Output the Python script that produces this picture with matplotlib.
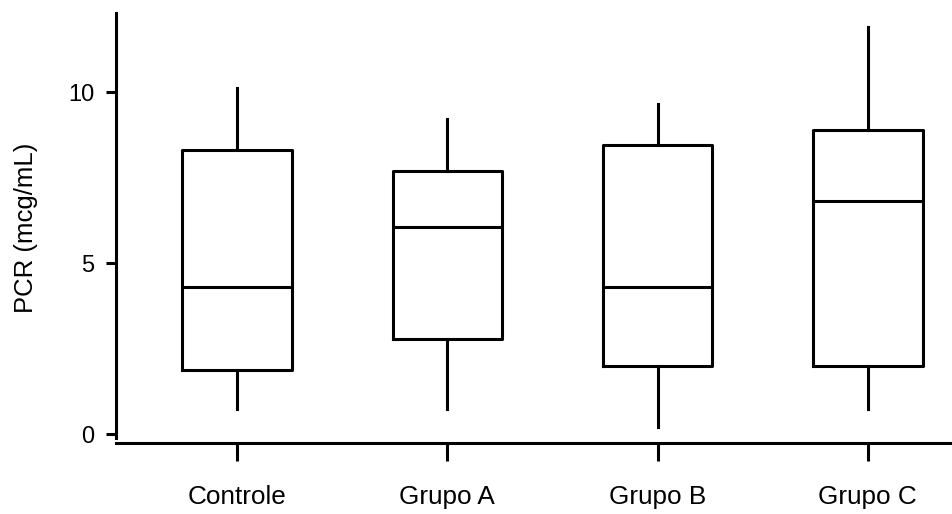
import matplotlib
matplotlib.use("Agg")
import matplotlib.pyplot as plt

groups = ["Controle", "Grupo A", "Grupo B", "Grupo C"]
whisker_low = [0.73, 0.73, 0.20, 0.73]
q1 = [1.87, 2.78, 1.99, 1.99]
median = [4.30, 6.05, 4.30, 6.81]
q3 = [8.30, 7.69, 8.45, 8.89]
whisker_high = [10.12, 9.21, 9.65, 11.90]

plt.rcParams["font.family"] = ["Liberation Sans", "DejaVu Sans"]

stats = []
for i, name in enumerate(groups):
    stats.append({"label": name, "whislo": whisker_low[i], "q1": q1[i], "med": median[i],
                  "q3": q3[i], "whishi": whisker_high[i], "fliers": []})

fig = plt.figure(figsize=(9.53, 5.14), dpi=100)
ax = fig.add_axes([116 / 953, 71 / 514, 837 / 953, 430 / 514])

lw = 2.2
ax.bxp(stats, positions=[1, 2, 3, 4], widths=0.52, showcaps=False, showfliers=False,
       boxprops=dict(color="black", linewidth=lw),
       whiskerprops=dict(color="black", linewidth=lw),
       medianprops=dict(color="black", linewidth=lw))

ax.set_xlim(0.424, 4.405)
ax.set_ylim(-0.263, 12.31)
ax.set_yticks([0, 5, 10])
ax.spines["top"].set_visible(False)
ax.spines["right"].set_visible(False)
ax.spines["left"].set_linewidth(lw)
ax.spines["bottom"].set_linewidth(lw)
ax.spines["left"].set_bounds(-0.12, 12.31)

ax.tick_params(axis="y", length=7.5, width=lw, pad=8, labelsize=17)
ax.tick_params(axis="x", length=13, width=lw, pad=17, labelsize=18.8)
ax.set_ylabel("PCR (mcg/mL)", fontsize=18.5, labelpad=22)

plt.savefig("out.png", dpi=100)
plt.close()
